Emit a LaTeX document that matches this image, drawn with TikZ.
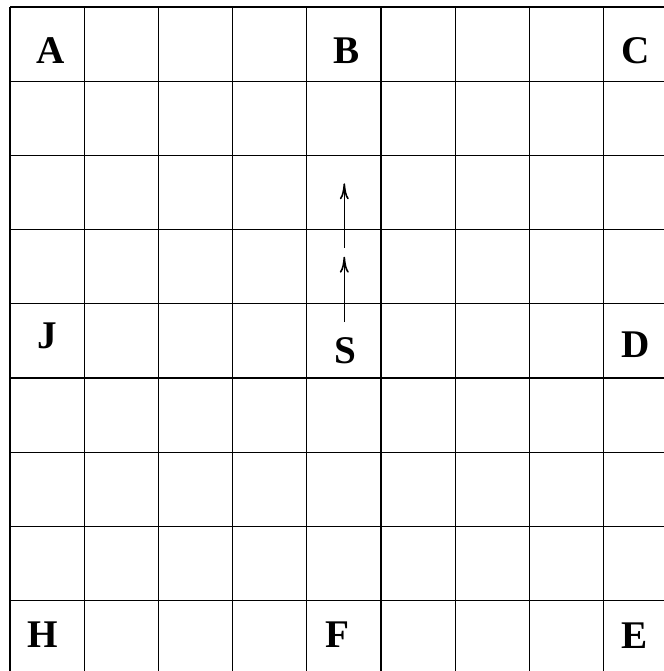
\documentclass[tikz,border=0pt]{standalone}
\usepackage{fontspec}
\setmainfont{Liberation Serif}
\usetikzlibrary{arrows.meta}

\begin{document}
\begin{tikzpicture}[x=0.5pt,y=-0.5pt,
  gridline/.style={line width=0.6pt},
  lbl/.style={anchor=base,inner sep=0pt,font=\fontsize{19.6}{20}\selectfont\bfseries},
  move/.style={line width=0.8pt,-{To[length=8pt,width=4.5pt]}}]
\useasboundingbox (0,0) rectangle (664,671);
\clip (0,0) rectangle (664,671);
% 9x9 board, cell 74.2 px; the right and bottom border fall off the page
\foreach \k in {0,...,9}{
  \draw[gridline] ({10+74.2*\k},7)--({10+74.2*\k},690);
  \draw[gridline] (10,{7+74.2*\k})--(690,{7+74.2*\k});
}
% letters
\node[lbl] (A) at (50.5,63) {A};
\node[lbl] (B) at (347,63) {B};
\node[lbl] (C) at (636,63) {C};
\node[lbl] (J) at (47,348) {J};
\node[lbl] (S) at (345.5,363) {S};
\node[lbl] (D) at (636,357) {D};
\node[lbl] (H) at (43,647) {H};
\node[lbl] (F) at (337.5,647) {F};
\node[lbl] (E) at (635,648) {E};
% two steps up from S
\coordinate (s1) at (344.3,322);
\coordinate (t1) at (344.3,256.7);
\coordinate (s2) at (344.3,247.7);
\coordinate (t2) at (344.3,183.3);
\draw[move] (s1)--(t1);
\draw[move] (s2)--(t2);
\end{tikzpicture}
\end{document}
